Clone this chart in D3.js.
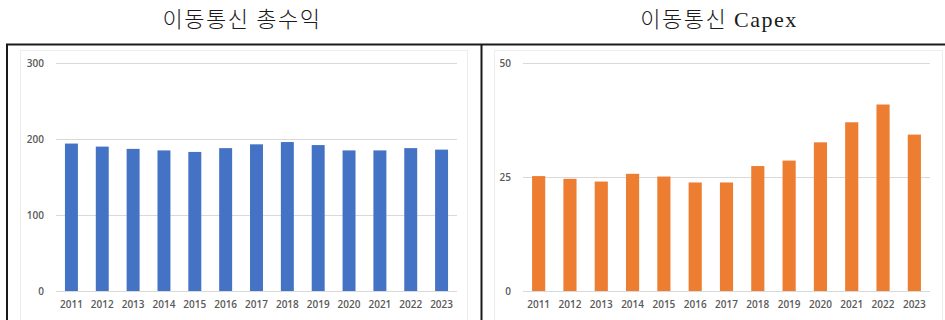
<!DOCTYPE html>
<html>
<head>
<meta charset="utf-8">
<script src="https://cdn.jsdelivr.net/npm/d3@7/dist/d3.min.js"></script>
<style>
  html, body { margin: 0; padding: 0; background: #fff; }
  svg { display: block; }
  .tick text { font-family: "Open Sans", "Noto Sans", sans-serif; font-size: 10px; font-weight: 600; fill: #595959; }
  .title { font-family: "Liberation Serif", "Noto Sans CJK KR", serif; font-size: 22px; font-weight: 300; letter-spacing: 1.5px; fill: #1a1a1a; }
</style>
</head>
<body>
<svg id="chart" width="945" height="320"></svg>
<script>
// Mobile telecom: total revenue and capex by year
const years = ["2011","2012","2013","2014","2015","2016","2017","2018","2019","2020","2021","2022","2023"];
const revenue = [194, 190, 187, 185, 183, 188, 193, 196, 192, 185, 185, 188, 186];
const capex = [25.2, 24.6, 24.0, 25.7, 25.1, 23.8, 23.8, 27.4, 28.6, 32.6, 37.0, 40.9, 34.3];
const revenueTicks = [0, 100, 200, 300];
const capexTicks = [0, 25, 50];
const titles = ["이동통신 총수익", "이동통신 Capex"];

const svg = d3.select("#chart");

// Titles above the two panels
svg.append("text").attr("class", "title").attr("x", 242).attr("y", 27)
  .attr("text-anchor", "middle").text(titles[0]);
svg.append("text").attr("class", "title").attr("x", 719).attr("y", 27)
  .attr("text-anchor", "middle").text(titles[1]);

// Inner chart boxes
[[20, 467], [494, 942]].forEach(([x0, x1]) => {
  svg.append("rect").attr("x", x0 + 0.5).attr("y", 50.5)
    .attr("width", x1 - x0).attr("height", 300)
    .attr("fill", "#fff").attr("stroke", "#ececec").attr("stroke-width", 1);
});

function panel(opts) {
  const { values, ticks, max, x0, x1, color } = opts;
  const yTop = 63, yBottom = 291;
  const x = d3.scaleBand().domain(years).range([x0, x1]).paddingInner(0.58).paddingOuter(0.29);
  const y = d3.scaleLinear().domain([0, max]).range([yBottom, yTop]);
  const g = svg.append("g");

  // Horizontal gridlines and value labels
  const yAxis = d3.axisLeft(y).tickValues(ticks).tickSize(-(x1 - x0)).tickPadding(12);
  const ga = g.append("g").attr("transform", `translate(${x0},0)`).call(yAxis);
  ga.select(".domain").remove();
  ga.selectAll(".tick line").attr("stroke", "#d9d9d9").attr("stroke-width", 1);

  // Bars
  g.append("g").selectAll("rect").data(values).join("rect")
    .attr("x", (d, i) => x(years[i]))
    .attr("width", x.bandwidth())
    .attr("y", d => y(d))
    .attr("height", d => y(0) - y(d))
    .attr("fill", color);

  // Year labels
  const xAxis = d3.axisBottom(x).tickSize(0).tickPadding(10);
  const gx = g.append("g").attr("transform", `translate(0,${yBottom})`).call(xAxis);
  gx.select(".domain").remove();
}

panel({ values: revenue, ticks: revenueTicks, max: 300, x0: 56, x1: 457, color: "#4472C4" });
panel({ values: capex, ticks: capexTicks, max: 50, x0: 523, x1: 930, color: "#ED7D31" });

// Outer frame: top rule, left edge and panel separator
svg.append("line").attr("x1", 6).attr("x2", 945).attr("y1", 44.5).attr("y2", 44.5)
  .attr("stroke", "#1a1a1a").attr("stroke-width", 2);
svg.append("line").attr("x1", 7).attr("x2", 7).attr("y1", 44).attr("y2", 320)
  .attr("stroke", "#1a1a1a").attr("stroke-width", 2);
svg.append("line").attr("x1", 481.5).attr("x2", 481.5).attr("y1", 44).attr("y2", 320)
  .attr("stroke", "#1a1a1a").attr("stroke-width", 2);
</script>
</body>
</html>
